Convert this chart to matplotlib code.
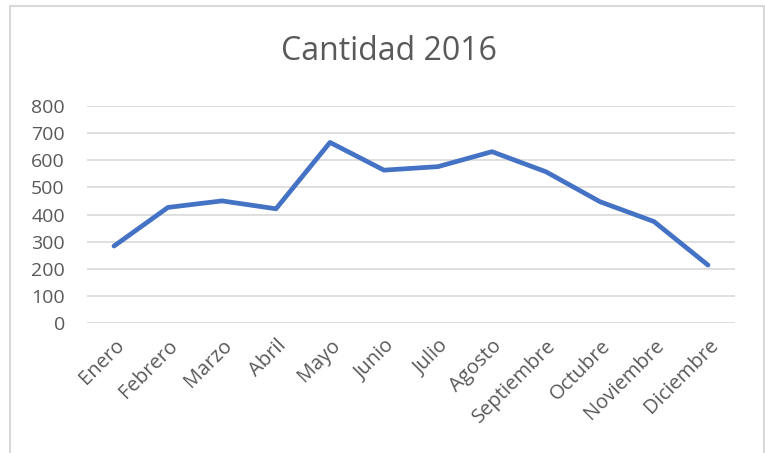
import matplotlib
matplotlib.use('Agg')
import matplotlib.pyplot as plt
import matplotlib.patches as mpatches

months = ["Enero", "Febrero", "Marzo", "Abril", "Mayo", "Junio", "Julio",
          "Agosto", "Septiembre", "Octubre", "Noviembre", "Diciembre"]
cantidad = [284, 426, 450, 421, 665, 563, 576, 631, 557, 447, 374, 214]
yticks = [0, 100, 200, 300, 400, 500, 600, 700, 800]

TEXT = "#595959"
GRID = "#d9d9d9"
LINE = "#4472C4"

plt.rcParams['font.family'] = ['Open Sans', 'DejaVu Sans']

W, H = 765, 453
fig = plt.figure(figsize=(W / 100, H / 100), dpi=100)
ax = fig.add_axes([87 / W, 1 - 323.3 / H, 648 / W, 217.6 / H])

x = list(range(len(months)))
ax.plot(x, cantidad, color=LINE, lw=3.4, solid_joinstyle='round',
        solid_capstyle='round', zorder=3)

ax.set_xlim(-0.5, len(months) - 0.5)
ax.set_ylim(0, 800)
ax.set_yticks(yticks)
ax.set_yticklabels([str(v) for v in yticks], fontsize=14, color=TEXT)
ax.set_xticks(x)
ax.set_xticklabels(months, rotation=45, ha='right', rotation_mode='anchor',
                   fontsize=14.5, color=TEXT)
ax.tick_params(axis='both', length=0)
ax.tick_params(axis='y', pad=16)
ax.tick_params(axis='x', pad=9)
ax.grid(axis='y', color=GRID, lw=1.2)
ax.set_axisbelow(True)
for s in ax.spines.values():
    s.set_visible(False)

fig.text(0.508, 1 - 52 / H, "Cantidad 2016", ha='center', va='center',
         fontsize=23, color=TEXT)

# light chart frame
fig.patches.append(mpatches.Rectangle((10 / W, -0.05), 754 / W, 1 - 6 / H + 0.05,
                                      transform=fig.transFigure, fill=False,
                                      edgecolor=GRID, lw=1.5))

fig.savefig("out.png", dpi=100)
